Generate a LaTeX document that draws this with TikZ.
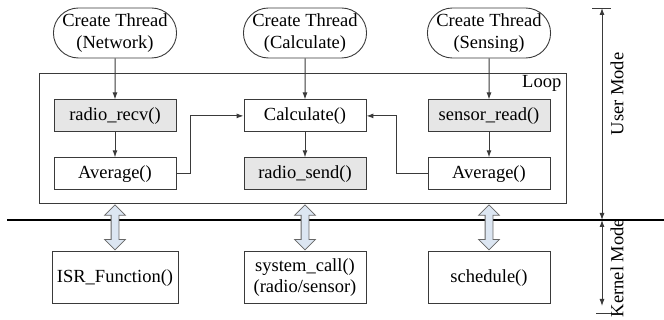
\documentclass[tikz,border=0pt]{standalone}
\usepackage{fontspec}
\setmainfont{Liberation Serif}
\usepackage{tikz}
\usetikzlibrary{arrows.meta,positioning,fit,calc,shapes.misc,shapes.arrows}
\definecolor{linegray}{HTML}{3A3A3A}
\definecolor{boxgray}{HTML}{E6E6E6}
\definecolor{arrowblue}{HTML}{DCE6F2}

\begin{document}
\begin{tikzpicture}[x=1pt,y=-1pt,
  font=\fontsize{18.5}{21.5}\selectfont,
  thread/.style={draw=linegray,line width=0.9pt,rounded rectangle,minimum width=122pt,minimum height=50pt,
                 inner sep=0pt,align=center},
  box/.style={draw=linegray,line width=0.9pt,minimum width=122pt,minimum height=32pt,inner sep=0pt,align=center},
  gbox/.style={box,fill=boxgray},
  kbox/.style={box,minimum width=126pt,minimum height=52pt},
  arrow/.style={-{Latex[length=7pt,width=5pt]},draw=linegray,line width=1pt},
  darrow/.style={shape=double arrow,draw=black!60,line width=0.8pt,fill=arrowblue,rotate=90,
                 double arrow head extend=6.5pt,inner xsep=0pt,inner ysep=3.5pt,
                 minimum height=45pt},
  modearrow/.style={{Latex[length=7pt,width=5pt]}-{Latex[length=7pt,width=5pt]},draw=linegray,line width=0.9pt}
]
\useasboundingbox (0,0) rectangle (664,320);
% threads
\node[thread] (tnet) at (115,33) {Create Thread\\(Network)};
\node[thread] (tcalc) at (305,33) {Create Thread\\(Calculate)};
\node[thread] (tsens) at (489,33) {Create Thread\\(Sensing)};
% user mode functions
\node[gbox,below=41pt of tnet] (recv) {radio\_recv()};
\node[box,below=25pt of recv] (avgl) {Average()};
\node[box,below=41pt of tcalc] (calc) {Calculate()};
\node[gbox,below=25pt of calc] (send) {radio\_send()};
\node[gbox,below=41pt of tsens] (sread) {sensor\_read()};
\node[box,below=25pt of sread] (avgr) {Average()};
\node[draw=linegray,line width=0.9pt,inner sep=0pt,fit={(39,73) (566,203)}] (loop) {};
\node[anchor=north east,inner sep=0pt] (looplbl) at ($(loop.north east)+(-5,3)$) {Loop};
% kernel functions
\node[kbox,below=61pt of avgl] (isr) {ISR\_Function()};
\node[box,minimum height=52pt,below=61pt of send] (syscall) {system\_call()\\(radio/sensor)};
\node[box,minimum height=52pt,below=61pt of avgr] (sched) {schedule()};
% boundary
\coordinate (divl) at (7,220);
\coordinate (divr) at (664,220);
\draw[line width=2.4pt] (divl) -- (divr);

\draw[arrow] (tnet)--(recv);
\draw[arrow] (recv)--(avgl);
\draw[arrow] (tcalc)--(calc);
\draw[arrow] (calc)--(send);
\draw[arrow] (tsens)--(sread);
\draw[arrow] (sread)--(avgr);
\draw[arrow] (avgl.east) -- ++(14,0) |- (calc.west);
\draw[arrow] (avgr.west) -- ++(-31,0) |- (calc.east);

\node[darrow] (ua) at ($(loop.south -| recv)!0.5!(isr.north -| recv)$) {};
\node[darrow] (ub) at ($(loop.south -| send)!0.5!(syscall.north -| send)$) {};
\node[darrow] (uc) at ($(loop.south -| avgr)!0.5!(sched.north -| avgr)$) {};

% mode ranges
\coordinate (umtop) at (602,8);
\coordinate (ummid) at (602,220);
\coordinate (kmbot) at (602,306);
\draw[draw=linegray,line width=0.9pt] (592,8) -- (611,8);
\draw[draw=linegray,line width=0.9pt] (596,313) -- (612,313);
\draw[modearrow] (umtop) -- (ummid);
\draw[modearrow] (ummid) -- (kmbot);
\node[rotate=90,inner sep=0pt] (umlbl) at (617,94) {User Mode};
\node[rotate=90,inner sep=0pt] (kmlbl) at (617,268) {Kernel Mode};
\end{tikzpicture}
\end{document}
